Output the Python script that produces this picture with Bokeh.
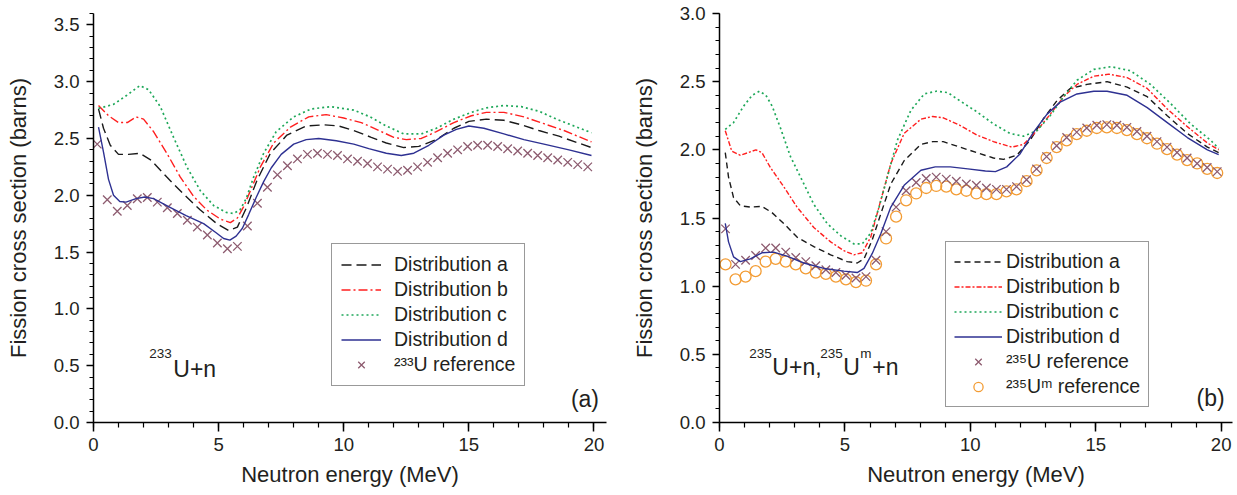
from bokeh.plotting import figure
from bokeh.layouts import row
from bokeh.models import (Range1d, SingleIntervalTicker, NumeralTickFormatter,
                          Legend, LegendItem, Label)
from bokeh.embed import file_html
from bokeh.resources import INLINE

FONT = "Liberation Sans"
TXT = "#231f20"

# ---------------- panel (a): 233U + n ----------------
a_dist_a_x = [0.2, 0.4, 0.67, 1.0, 1.4, 1.85, 2.3, 2.93, 3.6, 4.27, 4.93, 5.4, 5.75, 6.13, 6.53, 7.07,
              7.73, 8.5, 9.2, 9.8, 10.4, 11.1, 11.7, 12.4, 13.0, 13.7, 14.4, 15.0, 15.7, 16.4, 17.1,
              17.8, 18.6, 19.9]
a_dist_a_y = [2.76, 2.59, 2.44, 2.36, 2.36, 2.37, 2.31, 2.16, 2.01, 1.87, 1.75, 1.69, 1.72, 1.90, 2.13,
              2.37, 2.53, 2.61, 2.62, 2.61, 2.57, 2.51, 2.46, 2.42, 2.43, 2.49, 2.59, 2.65, 2.67, 2.66,
              2.62, 2.57, 2.52, 2.42]

a_dist_b_x = [0.2, 0.6, 1.0, 1.35, 1.7, 2.0, 2.4, 2.93, 3.47, 4.0, 4.53, 5.07, 5.47, 5.75, 6.0, 6.27,
              6.67, 7.2, 7.87, 8.6, 9.3, 10.0, 10.7, 11.4, 12.0, 12.5, 13.1, 13.7, 14.4, 15.1, 15.7,
              16.4, 17.2, 18.0, 18.8, 19.9]
a_dist_b_y = [2.79, 2.70, 2.64, 2.64, 2.69, 2.67, 2.56, 2.37, 2.16, 1.99, 1.87, 1.79, 1.76, 1.80, 1.90,
              2.04, 2.25, 2.46, 2.60, 2.69, 2.71, 2.68, 2.64, 2.57, 2.51, 2.49, 2.50, 2.56, 2.64, 2.70,
              2.73, 2.73, 2.69, 2.63, 2.57, 2.47]

a_dist_c_x = [0.2, 0.8, 1.33, 1.85, 2.2, 2.67, 3.2, 3.73, 4.27, 4.8, 5.3, 5.6, 5.85, 6.1, 6.4, 6.8, 7.3,
              8.0, 8.7, 9.5, 10.4, 11.05, 11.7, 12.4, 13.1, 13.7, 14.4, 15.1, 15.7, 16.4, 17.1, 17.8,
              18.5, 19.2, 19.9]
a_dist_c_y = [2.765, 2.80, 2.88, 2.965, 2.93, 2.78, 2.51, 2.25, 2.04, 1.91, 1.85, 1.84, 1.87, 1.97, 2.16,
              2.37, 2.56, 2.69, 2.76, 2.78, 2.75, 2.69, 2.61, 2.54, 2.54, 2.59, 2.67, 2.73, 2.77, 2.79,
              2.78, 2.74, 2.67, 2.61, 2.55]

a_dist_d_x = [0.2, 0.4, 0.6, 0.8, 1.05, 1.3, 1.7, 2.05, 2.4, 3.0, 3.7, 4.4, 4.9, 5.2, 5.45, 5.7, 5.95,
              6.2, 6.5, 6.8, 7.1, 7.5, 8.0, 8.5, 9.0, 9.7, 10.4, 11.0, 11.7, 12.3, 12.8, 13.4, 14.0,
              14.5, 15.0, 15.6, 16.4, 17.2, 18.0, 19.0, 19.9]
a_dist_d_y = [2.60, 2.38, 2.14, 2.00, 1.945, 1.94, 1.97, 1.985, 1.97, 1.90, 1.82, 1.75, 1.67, 1.62,
              1.605, 1.64, 1.71, 1.83, 1.98, 2.12, 2.24, 2.36, 2.45, 2.49, 2.50, 2.48, 2.45, 2.41, 2.37,
              2.35, 2.37, 2.44, 2.53, 2.58, 2.61, 2.59, 2.54, 2.49, 2.45, 2.40, 2.35]

a_ref_x = [0.15, 0.55, 0.95, 1.35, 1.75, 2.15, 2.55, 2.95, 3.35, 3.75, 4.15, 4.55, 4.95, 5.35, 5.75,
           6.15, 6.55, 6.95, 7.35, 7.75, 8.15, 8.55, 8.95, 9.35, 9.75, 10.15, 10.55, 10.95, 11.35,
           11.75, 12.15, 12.55, 12.95, 13.35, 13.75, 14.15, 14.55, 14.95, 15.35, 15.75, 16.15, 16.55,
           16.95, 17.35, 17.75, 18.15, 18.55, 18.95, 19.35, 19.75]
a_ref_y = [2.45, 1.96, 1.86, 1.91, 1.97, 1.98, 1.94, 1.89, 1.84, 1.78, 1.72, 1.65, 1.58, 1.53, 1.55,
           1.73, 1.93, 2.07, 2.18, 2.26, 2.32, 2.36, 2.37, 2.36, 2.35, 2.32, 2.30, 2.28, 2.25, 2.23,
           2.21, 2.22, 2.25, 2.29, 2.33, 2.37, 2.40, 2.43, 2.44, 2.44, 2.43, 2.41, 2.39, 2.37, 2.35,
           2.33, 2.31, 2.29, 2.27, 2.25]

# ---------------- panel (b): 235U + n, 235Um + n ----------------
b_dist_a_x = [0.23, 0.36, 0.56, 0.83, 1.23, 1.69, 2.09, 2.56, 3.09, 3.76, 4.43, 5.09, 5.49, 5.76, 6.09,
              6.43, 6.83, 7.36, 8.03, 8.5, 8.92, 9.58, 10.25, 10.92, 11.32, 11.85, 12.38, 12.92, 13.45,
              13.98, 14.65, 15.45, 16.25, 17.05, 17.85, 18.65, 19.45, 19.9]
b_dist_a_y = [1.98, 1.80, 1.65, 1.59, 1.58, 1.585, 1.54, 1.46, 1.36, 1.29, 1.23, 1.18, 1.17, 1.20, 1.34,
              1.53, 1.75, 1.92, 2.04, 2.06, 2.06, 2.02, 1.98, 1.94, 1.93, 1.96, 2.07, 2.23, 2.36, 2.45,
              2.48, 2.50, 2.46, 2.39, 2.25, 2.12, 2.02, 1.98]

b_dist_b_x = [0.23, 0.49, 0.83, 1.15, 1.45, 1.69, 2.03, 2.56, 3.09, 3.76, 4.43, 4.96, 5.36, 5.69, 6.03,
              6.43, 6.83, 7.36, 8.03, 8.5, 8.92, 9.58, 10.25, 10.92, 11.65, 12.12, 12.65, 13.18, 13.72,
              14.25, 14.92, 15.52, 16.25, 17.05, 17.85, 18.65, 19.45, 19.9]
b_dist_b_y = [2.14, 1.99, 1.96, 1.98, 2.00, 1.98, 1.87, 1.73, 1.58, 1.43, 1.325, 1.26, 1.23, 1.245, 1.36,
              1.63, 1.90, 2.12, 2.225, 2.245, 2.235, 2.18, 2.11, 2.06, 2.02, 2.04, 2.14, 2.26, 2.39,
              2.48, 2.54, 2.555, 2.53, 2.45, 2.30, 2.17, 2.05, 2.00]

b_dist_c_x = [0.23, 0.56, 0.96, 1.3, 1.6, 1.85, 2.1, 2.43, 2.83, 3.23, 3.76, 4.29, 4.83, 5.36, 5.69,
              6.03, 6.36, 6.69, 7.09, 7.63, 8.16, 8.65, 9.1, 9.58, 10.25, 10.92, 11.58, 12.12, 12.65,
              13.18, 13.72, 14.25, 14.92, 15.6, 16.38, 17.18, 17.98, 18.78, 19.58, 19.9]
b_dist_c_y = [2.15, 2.20, 2.32, 2.40, 2.43, 2.40, 2.32, 2.16, 1.95, 1.80, 1.60, 1.46, 1.37, 1.31, 1.31,
              1.39, 1.58, 1.80, 2.07, 2.29, 2.41, 2.43, 2.42, 2.36, 2.28, 2.19, 2.12, 2.10, 2.14, 2.25,
              2.39, 2.51, 2.59, 2.61, 2.58, 2.48, 2.34, 2.19, 2.07, 2.01]

b_dist_d_x = [0.23, 0.36, 0.56, 0.83, 1.23, 1.69, 2.16, 2.69, 3.36, 4.16, 4.96, 5.49, 5.76, 6.09, 6.43,
              6.83, 7.36, 8.03, 8.6, 9.2, 9.9, 10.6, 11.0, 11.45, 11.98, 12.52, 13.05, 13.58, 14.25,
              14.92, 15.45, 16.25, 17.05, 17.85, 18.65, 19.45, 19.9]
b_dist_d_y = [1.46, 1.325, 1.215, 1.18, 1.20, 1.245, 1.25, 1.22, 1.17, 1.13, 1.11, 1.10, 1.13, 1.24,
              1.385, 1.58, 1.74, 1.85, 1.875, 1.875, 1.86, 1.845, 1.84, 1.875, 1.97, 2.13, 2.26, 2.35,
              2.41, 2.43, 2.43, 2.40, 2.31, 2.20, 2.09, 2.00, 1.965]

b_ref_x = [0.24, 0.64, 1.04, 1.44, 1.84, 2.24, 2.64, 3.04, 3.44, 3.84, 4.24, 4.64, 5.04, 5.44, 5.84,
           6.24, 6.64, 7.04, 7.44, 7.84, 8.24, 8.64, 9.04, 9.44, 9.84, 10.24, 10.64, 11.04, 11.44,
           11.84, 12.24, 12.64, 13.04, 13.44, 13.84, 14.24, 14.64, 15.04, 15.44, 15.84, 16.24, 16.64,
           17.04, 17.44, 17.84, 18.24, 18.64, 19.04, 19.44, 19.84]
b_ref_u_y = [1.42, 1.16, 1.19, 1.225, 1.28, 1.28, 1.25, 1.21, 1.18, 1.15, 1.12, 1.10, 1.08, 1.06, 1.07,
             1.19, 1.40, 1.58, 1.70, 1.76, 1.79, 1.80, 1.785, 1.77, 1.75, 1.74, 1.72, 1.71, 1.71, 1.73,
             1.78, 1.86, 1.95, 2.03, 2.09, 2.13, 2.16, 2.18, 2.185, 2.18, 2.165, 2.135, 2.10, 2.06,
             2.02, 1.98, 1.94, 1.90, 1.87, 1.84]
b_ref_um_y = [1.16, 1.05, 1.07, 1.11, 1.18, 1.20, 1.18, 1.16, 1.13, 1.10, 1.09, 1.07, 1.05, 1.03, 1.04,
              1.16, 1.35, 1.51, 1.63, 1.68, 1.72, 1.735, 1.73, 1.71, 1.70, 1.68, 1.675, 1.675, 1.695,
              1.71, 1.77, 1.85, 1.94, 2.02, 2.07, 2.115, 2.14, 2.16, 2.165, 2.16, 2.145, 2.115, 2.085,
              2.045, 2.005, 1.965, 1.925, 1.90, 1.86, 1.83]

x_title = "Neutron energy (MeV)"
y_title = "Fission cross section (barns)"
legend_names = ["Distribution a", "Distribution b", "Distribution c", "Distribution d"]

C_A, C_B, C_C, C_D = "#1a1a1a", "#ff1f1f", "#1fa85a", "#2e3192"
C_X, C_O = "#8d5b6f", "#f39c34"


def base_fig(width, ymax, xmax, bl, br):
    p = figure(width=width, height=495, output_backend="svg", toolbar_location=None,
               x_range=Range1d(0, xmax), y_range=Range1d(0, ymax),
               min_border_left=bl, min_border_right=br, min_border_top=13, min_border_bottom=73)
    p.outline_line_color = None
    p.grid.visible = False
    p.background_fill_color = "white"
    p.border_fill_color = "white"
    p.xaxis.ticker = SingleIntervalTicker(interval=5, num_minor_ticks=5)
    p.yaxis.ticker = SingleIntervalTicker(interval=0.5, num_minor_ticks=5)
    p.yaxis.formatter = NumeralTickFormatter(format="0.0")
    for ax in (p.xaxis[0], p.yaxis[0]):
        ax.axis_line_color = "black"
        ax.axis_line_width = 1.5
        ax.major_tick_line_color = "black"
        ax.minor_tick_line_color = "black"
        ax.major_tick_line_width = 1.5
        ax.minor_tick_line_width = 1.2
        ax.major_tick_in = 0
        ax.minor_tick_in = 0
        ax.major_label_text_font = FONT
        ax.major_label_text_font_size = "18.6px"
        ax.major_label_text_color = TXT
        ax.axis_label_text_font = FONT
        ax.axis_label_text_font_size = "22px"
        ax.axis_label_text_font_style = "normal"
        ax.axis_label_text_color = TXT
    p.xaxis.major_tick_out = 9
    p.xaxis.minor_tick_out = 5
    p.yaxis.major_tick_out = 7
    p.yaxis.minor_tick_out = 4
    p.xaxis.major_label_standoff = 6
    p.yaxis.major_label_standoff = 7
    p.xaxis.axis_label = x_title
    p.yaxis.axis_label = y_title
    p.xaxis.axis_label_standoff = 8
    p.yaxis.axis_label_standoff = 20
    return p


def add_label(p, x, y, text, size, xoff=0, yoff=0, align="left"):
    p.add_layout(Label(x=x, y=y, text=text, x_offset=xoff, y_offset=yoff, text_font=FONT,
                       text_font_size=size, text_color=TXT, text_align=align,
                       text_baseline="alphabetic"))


def make_legend(items, loc, pad, gw, standoff, spacing):
    return Legend(items=items, location=loc, padding=pad, spacing=spacing, margin=0,
                  glyph_width=gw, glyph_height=23, label_height=23, label_standoff=standoff,
                  label_text_font=FONT, label_text_font_size="19.5px", label_text_color=TXT,
                  border_line_color="#333333", border_line_width=1,
                  background_fill_color="white", background_fill_alpha=1.0)


# ---------- left figure ----------
p1 = base_fig(620, 3.6, 20.5, 93, 14)
sx = p1.scatter(a_ref_x, a_ref_y, marker="x", size=12, line_color=C_X, line_width=1.3)
la = p1.line(a_dist_a_x, a_dist_a_y, line_color=C_A, line_width=1.4, line_dash="10 5")
lb = p1.line(a_dist_b_x, a_dist_b_y, line_color=C_B, line_width=1.4, line_dash="9 3 2 3")
lc = p1.line(a_dist_c_x, a_dist_c_y, line_color=C_C, line_width=1.7, line_dash="2 3")
ld = p1.line(a_dist_d_x, a_dist_d_y, line_color=C_D, line_width=1.4)
leg1 = make_legend([LegendItem(label=legend_names[0], renderers=[la]),
                    LegendItem(label=legend_names[1], renderers=[lb]),
                    LegendItem(label=legend_names[2], renderers=[lc]),
                    LegendItem(label=legend_names[3], renderers=[ld]),
                    LegendItem(label="\u00b2\u00b3\u00b3U reference", renderers=[sx])],
                   (238, 36), 9, 40, 13, 2)
p1.add_layout(leg1, "center")
add_label(p1, 2.23, 0.47, "233", "13.5px", 0, 16)
add_label(p1, 2.23, 0.47, "U+n", "23px", 24, 0)
add_label(p1, 20.2, 0.21, "(a)", "23px", align="right")

# ---------- right figure ----------
p2 = base_fig(617, 3.0, 20.45, 99, 5)
ro = p2.scatter(b_ref_x, b_ref_um_y, marker="circle", size=11, line_color=C_O, line_width=1.3,
                fill_color=None)
rx = p2.scatter(b_ref_x, b_ref_u_y, marker="x", size=12, line_color=C_X, line_width=1.3)
ra = p2.line(b_dist_a_x, b_dist_a_y, line_color=C_A, line_width=1.4, line_dash="6 4")
rb = p2.line(b_dist_b_x, b_dist_b_y, line_color=C_B, line_width=1.4, line_dash="5 2 2 2")
rc = p2.line(b_dist_c_x, b_dist_c_y, line_color=C_C, line_width=1.7, line_dash="2 3")
rd = p2.line(b_dist_d_x, b_dist_d_y, line_color=C_D, line_width=1.4)
leg2 = make_legend([LegendItem(label=legend_names[0], renderers=[ra]),
                    LegendItem(label=legend_names[1], renderers=[rb]),
                    LegendItem(label=legend_names[2], renderers=[rc]),
                    LegendItem(label=legend_names[3], renderers=[rd]),
                    LegendItem(label="\u00b2\u00b3\u2075U reference", renderers=[rx]),
                    LegendItem(label="\u00b2\u00b3\u2075U\u1d50 reference", renderers=[ro])],
                   (226, 15), 8, 48, 4, 2)
p2.add_layout(leg2, "center")
add_label(p2, 1.19, 0.407, "235", "13.5px", 0, 14)
add_label(p2, 1.19, 0.407, "U+n,", "23px", 23, 0)
add_label(p2, 1.19, 0.407, "235", "13.5px", 71, 14)
add_label(p2, 1.19, 0.407, "U", "23px", 94, 0)
add_label(p2, 1.19, 0.407, "m", "13.5px", 111, 14)
add_label(p2, 1.19, 0.407, "+n", "23px", 123, 0)
add_label(p2, 20.14, 0.178, "(b)", "23px", align="right")

layout = row(p1, p2)
open("out.html", "w").write(file_html(layout, INLINE))
